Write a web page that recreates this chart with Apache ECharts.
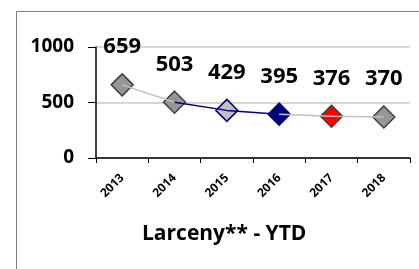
<!DOCTYPE html>
<html>
<head>
<meta charset="utf-8">
<script src="https://cdn.jsdelivr.net/npm/echarts@6/dist/echarts.min.js"></script>
<style>
html,body{margin:0;padding:0;background:#fff;}
#chart{width:419px;height:269px;}
</style>
</head>
<body>
<div id="chart"></div>
<script>
var years = ['2013', '2014', '2015', '2016', '2017', '2018'];
var values = [659, 503, 429, 395, 376, 370];
var yTicks = [0, 500, 1000];

// marker colours per year, line colour per segment
var markerFill = ['#969696', '#969696', '#c0c0c0', '#000080', '#ff0000', '#969696'];
var markerEdge = ['#404040', '#404040', '#000080', '#000080', '#404040', '#404040'];

function segment(from, to) {
	return values.map(function (v, i) { return (i >= from && i <= to) ? v : '-'; });
}

var chart = echarts.init(document.getElementById('chart'));
var font = '"Open Sans", "DejaVu Sans", sans-serif';

chart.setOption({
	animation: false,
	textStyle: { fontFamily: font },
	graphic: [{
		type: 'rect',
		left: 14, top: 9,
		shape: { width: 420, height: 280 },
		style: { fill: 'none', stroke: '#7f7f7f', lineWidth: 1 }
	}],
	title: {
		text: 'Larceny** - YTD',
		left: 137, top: 219,
		textStyle: { fontSize: 21, fontWeight: 'bold', color: '#000', fontFamily: font }
	},
	grid: { left: 96, right: 9, top: 47, bottom: 111 },
	xAxis: {
		type: 'category',
		data: years,
		boundaryGap: true,
		axisLine: { lineStyle: { color: '#000', width: 1.5 } },
		axisTick: { show: true, length: 5, lineStyle: { color: '#000' } },
		axisLabel: { rotate: 45, interval: 0, margin: 18, fontSize: 12, fontWeight: 'bold', color: '#000' }
	},
	yAxis: {
		type: 'value',
		min: yTicks[0], max: yTicks[yTicks.length - 1], interval: 500,
		axisLine: { show: true, lineStyle: { color: '#000', width: 1.5 } },
		axisTick: { show: true, length: 8, lineStyle: { color: '#000' } },
		axisLabel: { fontSize: 19, fontWeight: 'bold', color: '#000', margin: 22, formatter: function (v) { return String(v); } },
		splitLine: { lineStyle: { color: '#c8c8c8', width: 1.5 } }
	},
	series: [
		{ type: 'line', data: segment(0, 1), symbol: 'none', lineStyle: { color: '#c0c0c0', width: 1.5 } },
		{ type: 'line', data: segment(1, 3), symbol: 'none', lineStyle: { color: '#000080', width: 1.5 } },
		{ type: 'line', data: segment(3, 5), symbol: 'none', lineStyle: { color: '#c0c0c0', width: 1.5 } },
		{
			type: 'scatter',
			symbol: 'diamond',
			symbolSize: 22,
			data: values.map(function (v, i) {
				return { value: v, itemStyle: { color: markerFill[i], borderColor: markerEdge[i], borderWidth: 1.5, opacity: 1 } };
			}),
			label: {
				show: true, position: 'top', distance: 15,
				fontSize: 22, fontWeight: 'bold', color: '#000', fontFamily: font
			}
		}
	]
});
</script>
</body>
</html>
